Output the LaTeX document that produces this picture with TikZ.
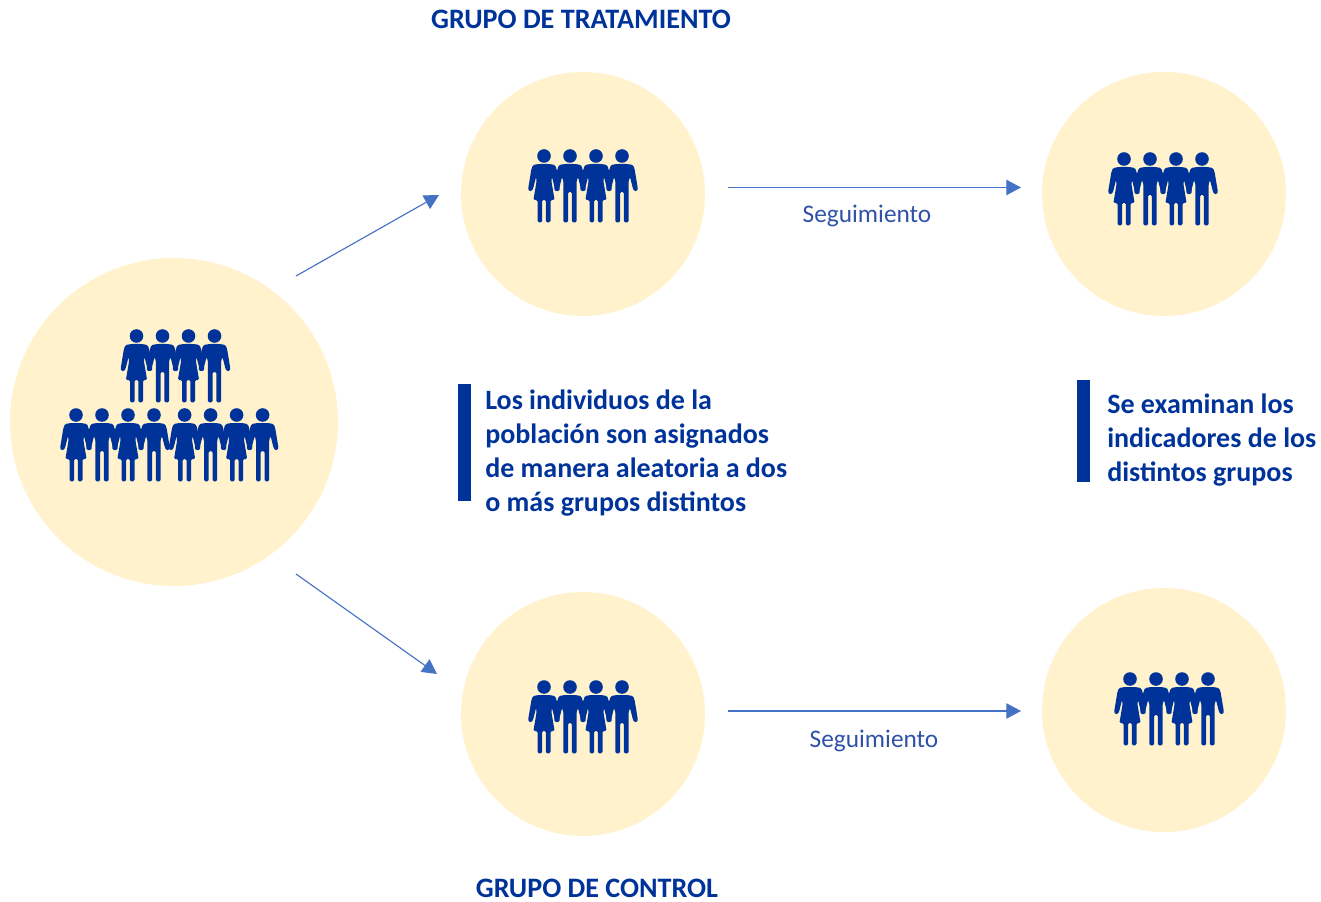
\documentclass[tikz,border=0pt]{standalone}
\usepackage{fontspec}
\setmainfont{Carlito}
\definecolor{disc}{HTML}{FFF2CC}
\definecolor{navy}{HTML}{003399}
\definecolor{arrowblue}{HTML}{4472C4}
\definecolor{labelblue}{HTML}{2F52A8}
\usetikzlibrary{arrows.meta}
\tikzset{
  x=0.75pt,y=-0.75pt,
  disc/.style={circle,fill=disc,draw=none,inner sep=0pt,minimum size=#1*0.75pt},
  flow/.style={draw=arrowblue,line width=0.85pt,-{Triangle[length=11pt,width=11.5pt,fill=arrowblue]}},
  title/.style={font=\fontsize{21.1}{25}\selectfont\bfseries,text=navy,inner sep=0pt},
  note/.style={font=\fontsize{21}{25.5}\selectfont\bfseries,text=navy,inner sep=0pt,align=left,anchor=north west},
  follow/.style={font=\fontsize{19}{23}\selectfont,text=labelblue,inner sep=0pt},
  bar/.style={fill=navy,draw=none},
  man/.pic={
    \fill[navy] (0,0) circle (6.8);
    \fill[navy,rounded corners=1pt] (-5,8) -- (5,8) -- (11,9) -- (12.6,13) -- (15.9,33) -- (15,35.2) -- (12.4,35.2) -- (11,33) -- (8,21) -- (6.6,25) -- (6.6,66.3) -- (1.9,66.3) -- (1.9,36) -- (-1.9,36) -- (-1.9,66.3) -- (-6.6,66.3) -- (-6.6,25) -- (-8,21) -- (-11,33) -- (-12.4,35.2) -- (-15,35.2) -- (-15.9,33) -- (-12.6,13) -- (-11,9) -- cycle;
  },
  woman/.pic={
    \fill[navy] (0,0) circle (6.8);
    \fill[navy,rounded corners=1pt] (-5,8) -- (5,8) -- (11,9) -- (12.6,13) -- (15.9,33) -- (15,35.2) -- (12.4,35.2) -- (11,33) -- (8,21) -- (7.4,25) -- (10.6,44) -- (6.5,44) -- (6.5,66.3) -- (1.9,66.3) -- (1.9,44) -- (-1.9,44) -- (-1.9,66.3) -- (-6.5,66.3) -- (-6.5,44) -- (-10.6,44) -- (-7.4,25) -- (-8,21) -- (-11,33) -- (-12.4,35.2) -- (-15,35.2) -- (-15.9,33) -- (-12.6,13) -- (-11,9) -- cycle;
  },
  family/.pic={
    \pic at (0,0) {woman};
    \pic at (26,0) {man};
    \pic at (52,0) {woman};
    \pic at (78,0) {man};
  }
}
\begin{document}
\begin{tikzpicture}
\useasboundingbox (0,0) rectangle (1321,902);
\node[disc=328] (pop) at (174,422) {};
\node[disc=244] (treat) at (583,194) {};
\node[disc=244] (treatend) at (1164,194) {};
\node[disc=244] (ctrl) at (583,714) {};
\node[disc=244] (ctrlend) at (1164,710) {};

\pic at (136.5,336) {family};
\pic at (76,415) {family};
\pic at (184.6,415) {family};
\pic at (544,156) {family};
\pic at (1124,159) {family};
\pic at (544,687) {family};
\pic at (1130,679) {family};

\coordinate (popA) at (296,276);
\coordinate (treatIn) at (439,195);
\coordinate (popB) at (296,574);
\coordinate (ctrlIn) at (437,674);
\coordinate (treatOut) at (728,187.5);
\coordinate (treatEndIn) at (1021,187.5);
\coordinate (ctrlOut) at (728,711);
\coordinate (ctrlEndIn) at (1021,711);
\draw[flow] (popA) -- (treatIn);
\draw[flow] (popB) -- (ctrlIn);
\draw[flow] (treatOut) -- (treatEndIn);
\draw[flow] (ctrlOut) -- (ctrlEndIn);

\node[follow] (seg1) at (867,216) {Seguimiento};
\node[follow] (seg2) at (874,741) {Seguimiento};
\node[title] (t1) at (581,19) {GRUPO DE TRATAMIENTO};
\node[title] (t2) at (597,888) {GRUPO DE CONTROL};

\fill[bar] (458,384) rectangle (471,501);
\fill[bar] (1077,380) rectangle (1090,482);
\node[note] (n1) at (485,390) {Los individuos de la\\población son asignados\\de manera aleatoria a dos\\o más grupos distintos};
\node[note] (n2) at (1107,394) {Se examinan los\\indicadores de los\\distintos grupos};
\end{tikzpicture}
\end{document}
